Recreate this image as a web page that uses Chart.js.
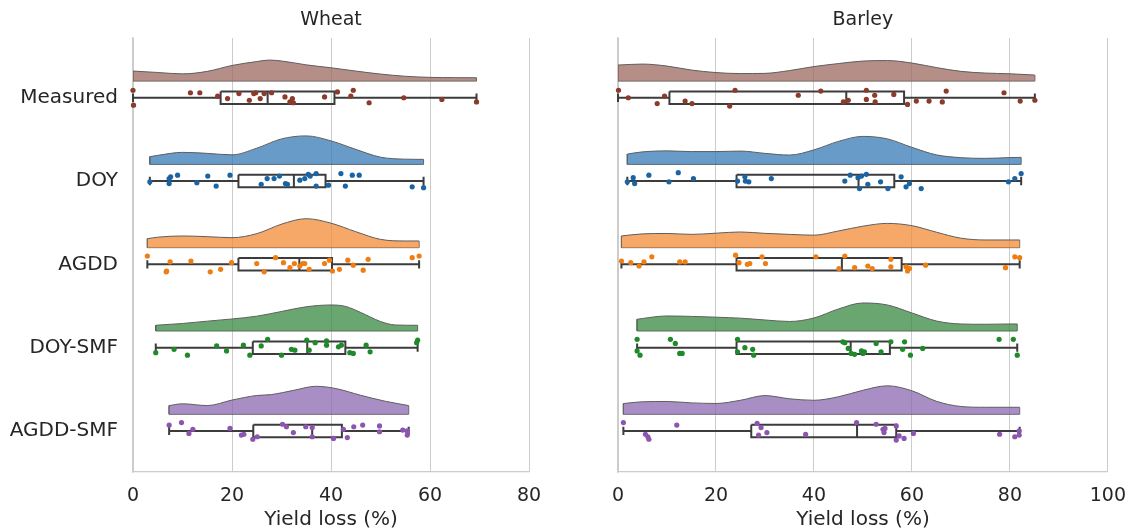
<!DOCTYPE html>
<html>
<head>
<meta charset="utf-8">
<title>Yield loss raincloud plots</title>
<script src="https://cdn.jsdelivr.net/npm/chart.js@4.4.0/dist/chart.umd.min.js"></script>
<style>
  html, body { margin: 0; padding: 0; background: #ffffff; }
  #wrap { position: relative; width: 1139px; height: 532px; overflow: hidden; }
  #wheatChart { position: absolute; left: 0; top: 0; }
  #barleyChart { position: absolute; left: 560px; top: 0; }
</style>
</head>
<body>
<div id="wrap">
  <canvas id="wheatChart" width="560" height="532"></canvas>
  <canvas id="barleyChart" width="579" height="532"></canvas>
</div>
<script>
// ---- categories and axis ticks ----
const categories = ['Measured', 'DOY', 'AGDD', 'DOY-SMF', 'AGDD-SMF'];
const wheatXTicks = [0, 20, 40, 60, 80];
const barleyXTicks = [0, 20, 40, 60, 80, 100];

// ---- Wheat: yield loss (%) per year, with vertical jitter (category units) ----
const wheatMeasured = [0, 0.1, 11.6, 13.5, 17.1, 19.1, 21.4, 23.5, 24.4, 24.8, 25.7, 26.5, 28.0, 30.7, 31.7, 32.2, 32.4, 38.7, 41.3, 44.0, 44.5, 47.7, 54.7, 62.4, 69.4];
const wheatMeasuredJitter = [-0.09, 0.09, -0.06, -0.06, -0.02, 0.01, -0.05, 0.03, -0.05, -0.06, 0.01, -0.05, -0.06, -0.01, 0.05, 0.01, 0.06, -0.01, -0.07, -0.02, -0.09, 0.06, 0, 0.02, 0.05];
const wheatDOY = [3.4, 7.3, 7.6, 7.3, 9.0, 12.9, 15.1, 16.8, 19.6, 25.9, 27.1, 28.5, 29.6, 30.8, 31.2, 33.7, 34.7, 35.4, 35.8, 37.0, 37.0, 39.5, 42.0, 42.9, 44.3, 45.7, 56.4, 58.7];
const wheatDOYJitter = [0.01, -0.03, -0.05, 0.03, -0.07, 0.02, -0.06, 0.06, -0.07, 0.04, -0.03, -0.03, -0.06, 0.03, 0.04, -0.01, -0.03, -0.08, -0.06, -0.09, 0.06, 0.05, -0.09, 0.06, -0.07, -0.07, 0.07, 0.08];
const wheatAGDD = [2.9, 6.8, 6.7, 7.5, 11.7, 15.6, 17.7, 19.9, 25.0, 26.5, 28.8, 30.4, 31.7, 32.6, 33.7, 34.3, 34.7, 35.6, 38.7, 39.7, 40.3, 41.7, 43.4, 44.5, 46.5, 47.5, 56.4, 57.8];
const wheatAGDDJitter = [-0.10, 0.08, 0.09, -0.03, -0.04, 0.09, 0.06, -0.02, -0.01, 0.09, -0.08, -0.02, 0.04, -0.01, 0.02, -0.01, -0.01, 0.06, -0.01, -0.05, 0.08, 0.06, -0.05, 0.01, 0.07, -0.06, -0.08, -0.10];
const wheatDOYSMF = [4.6, 8.3, 11.0, 16.9, 18.9, 22.3, 23.6, 25.9, 27.2, 30.0, 32.0, 32.7, 35.1, 35.6, 36.8, 39.1, 39.1, 41.5, 42.1, 43.8, 44.5, 47.1, 47.9, 57.3, 57.5];
const wheatDOYSMFJitter = [0.06, 0.02, 0.09, -0.02, 0.04, -0.03, 0.09, -0.02, -0.10, 0.09, 0.02, 0.03, -0.09, 0.03, -0.06, -0.08, -0.03, -0.01, -0.03, 0.06, 0.07, -0.03, 0.05, -0.06, -0.09];
const wheatAGDDSMF = [7.3, 9.8, 11.3, 12.1, 19.6, 21.9, 22.4, 24.2, 25.1, 30.2, 31.0, 32.4, 34.9, 36.2, 36.2, 40.5, 42.5, 43.3, 44.6, 46.4, 49.8, 49.8, 54.5, 55.4, 55.4];
const wheatAGDDSMFJitter = [-0.07, -0.10, 0.03, -0.02, -0.03, 0.05, 0.04, 0.10, 0.07, -0.08, -0.05, 0.02, -0.05, 0.07, -0.04, 0.09, -0.02, 0.08, -0.05, -0.07, -0.06, 0.01, -0.01, 0.05, 0];

// ---- Wheat box statistics ----
const wheatQ1 = [17.7, 21.3, 21.3, 24.2, 24.3];
const wheatMedian = [27.2, 32.5, 33.6, 35.2, 36.2];
const wheatQ3 = [40.7, 38.9, 40.2, 42.9, 42.2];
const wheatWhiskerLow = [0, 3.4, 2.9, 4.6, 7.3];
const wheatWhiskerHigh = [69.4, 58.7, 57.8, 57.5, 55.7];

// ---- Wheat kernel density estimates (x in %, density per %) ----
const wheatMeasuredKdeX = [0, 5, 10, 15, 20, 25, 27.5, 30, 35, 40, 45, 50, 55, 60, 65, 69.4];
const wheatMeasuredKde = [0.0100, 0.0086, 0.0072, 0.0097, 0.0156, 0.0195, 0.0210, 0.0201, 0.0162, 0.0133, 0.0100, 0.0070, 0.0048, 0.0037, 0.0034, 0.0033];
const wheatDOYKdeX = [3.4, 5, 10, 15, 20, 25, 30, 35, 40, 45, 50, 55, 58.7];
const wheatDOYKde = [0.0077, 0.0090, 0.0120, 0.0110, 0.0095, 0.0162, 0.0255, 0.0285, 0.0235, 0.0150, 0.0072, 0.0052, 0.0050];
const wheatAGDDKdeX = [2.9, 5, 10, 15, 20, 25, 30, 35, 40, 45, 50, 55, 57.8];
const wheatAGDDKde = [0.0090, 0.0105, 0.0117, 0.0110, 0.0100, 0.0140, 0.0235, 0.0290, 0.0245, 0.0160, 0.0083, 0.0067, 0.0067];
const wheatDOYSMFKdeX = [4.6, 10, 15, 20, 25, 30, 35, 40, 43, 46, 50, 53, 57.5];
const wheatDOYSMFKde = [0.0057, 0.0075, 0.0098, 0.0120, 0.0148, 0.0195, 0.0242, 0.0260, 0.0245, 0.0185, 0.0095, 0.0060, 0.0057];
const wheatAGDDSMFKdeX = [7.3, 10, 15, 20, 25, 28, 32.5, 37, 41, 46, 51, 55.7];
const wheatAGDDSMFKde = [0.0087, 0.0105, 0.0087, 0.0142, 0.0188, 0.0197, 0.0240, 0.0280, 0.0257, 0.0190, 0.0130, 0.0087];

// ---- Barley: yield loss (%) per year, with vertical jitter ----
const barleyMeasured = [0.1, 2.1, 8.0, 9.5, 13.7, 15.1, 22.8, 23.9, 36.8, 41.4, 46.0, 47.0, 50.7, 50.7, 52.4, 52.5, 56.3, 59.1, 60.9, 63.5, 66.2, 67.0, 78.8, 82.1, 85.1];
const barleyMeasuredJitter = [-0.09, 0, 0.07, -0.02, 0.04, 0.07, 0.10, -0.09, -0.03, -0.08, 0.05, 0.03, -0.09, 0.02, -0.03, 0.05, -0.04, 0.08, 0.04, 0.04, 0.05, -0.08, -0.06, 0.04, 0.03];
const barleyDOY = [1.9, 3.1, 3.4, 6.3, 10.4, 12.3, 15.4, 24.4, 25.9, 26.0, 26.7, 31.3, 46.3, 47.4, 49.0, 49.3, 49.7, 50.7, 51.0, 53.6, 55.1, 57.8, 58.8, 59.5, 61.9, 79.7, 81.0, 82.3];
const barleyDOYJitter = [0.01, -0.04, 0.03, -0.07, 0.01, -0.10, -0.03, 0, -0.05, 0, 0.01, -0.03, 0, -0.07, -0.04, 0.09, -0.06, -0.08, 0.04, 0.01, 0.09, -0.05, 0.07, 0.03, 0.09, 0.01, -0.03, -0.09];
const barleyAGDD = [0.7, 2.6, 4.3, 5.3, 6.9, 12.6, 13.7, 24.0, 24.7, 26.4, 26.9, 29.4, 30.1, 40.4, 45.1, 46.3, 48.3, 51.0, 51.9, 55.7, 55.7, 58.8, 59.1, 59.5, 62.8, 79.1, 81.0, 82.0];
const barleyAGDDJitter = [-0.04, -0.02, 0.02, -0.03, -0.09, -0.03, -0.03, -0.11, -0.02, 0, -0.01, -0.09, -0.01, -0.09, 0.05, -0.10, 0.04, 0.02, 0.05, -0.06, 0.03, 0.03, 0.08, 0.05, 0.01, 0.04, -0.09, -0.08];
const barleyDOYSMF = [3.9, 3.9, 4.5, 10.7, 11.7, 12.6, 13.1, 24.4, 24.4, 25.9, 27.5, 27.7, 45.9, 46.3, 47.0, 47.6, 48.3, 49.7, 50.0, 50.3, 52.7, 53.7, 55.7, 58.1, 58.5, 59.7, 62.2, 77.8, 80.7, 81.5];
const barleyDOYSMFJitter = [-0.10, 0.04, 0.09, -0.10, -0.05, 0.07, 0.07, -0.10, 0.05, 0, 0.02, 0.09, -0.07, -0.06, 0.01, 0.07, 0.08, 0.04, 0.07, 0.05, -0.05, 0.05, -0.07, 0.02, -0.07, 0.09, 0.01, -0.10, -0.10, 0.09];
const barleyAGDDSMF = [1.1, 5.6, 6.1, 6.3, 12.0, 28.4, 28.7, 29.2, 30.4, 38.3, 48.7, 52.7, 54.1, 54.3, 54.5, 56.8, 56.8, 57.4, 58.4, 60.3, 77.9, 81.0, 81.9, 81.9];
const barleyAGDDSMFJitter = [-0.10, 0.04, 0.07, 0.10, -0.07, -0.09, 0.05, -0.04, 0.02, 0.04, -0.10, -0.08, -0.02, 0.02, -0.03, -0.06, 0.11, 0.06, 0.09, 0.03, 0.04, 0.07, 0.05, 0];

// ---- Barley box statistics ----
const barleyQ1 = [10.5, 24.2, 24.2, 24.2, 27.2];
const barleyMedian = [46.6, 49.1, 45.7, 47.5, 48.8];
const barleyQ3 = [58.4, 56.4, 57.9, 55.5, 56.8];
const barleyWhiskerLow = [0, 1.9, 0.7, 3.9, 1.1];
const barleyWhiskerHigh = [85.1, 82.3, 82.0, 81.5, 82.0];

// ---- Barley kernel density estimates ----
const barleyMeasuredKdeX = [0, 5, 10, 15, 20, 25, 30, 35, 40, 45, 50, 55, 60, 65, 70, 75, 80, 85.1];
const barleyMeasuredKde = [0.0160, 0.0170, 0.0150, 0.0110, 0.0085, 0.0075, 0.0077, 0.0105, 0.0145, 0.0175, 0.0200, 0.0205, 0.0180, 0.0135, 0.0097, 0.0080, 0.0073, 0.0060];
const barleyDOYKdeX = [1.9, 5, 10, 15, 20, 25, 30, 35, 40, 45, 50, 55, 60, 65, 70, 75, 80, 82.3];
const barleyDOYKde = [0.0103, 0.0125, 0.0135, 0.0128, 0.0128, 0.0133, 0.0110, 0.0093, 0.0145, 0.0230, 0.0280, 0.0255, 0.0170, 0.0095, 0.0067, 0.0060, 0.0068, 0.0070];
const barleyAGDDKdeX = [0.7, 5, 10, 15, 20, 25, 30, 35, 40, 45, 50, 55, 60, 65, 70, 75, 80, 82];
const barleyAGDDKde = [0.0117, 0.0138, 0.0142, 0.0133, 0.0145, 0.0157, 0.0143, 0.0133, 0.0125, 0.0167, 0.0215, 0.0243, 0.0220, 0.0155, 0.0095, 0.0077, 0.0077, 0.0077];
const barleyDOYSMFKdeX = [3.9, 5, 10, 15, 20, 25, 30, 35, 40, 45, 50, 55, 60, 65, 70, 75, 80, 81.5];
const barleyDOYSMFKde = [0.0117, 0.0125, 0.0150, 0.0146, 0.0138, 0.0128, 0.0110, 0.0095, 0.0130, 0.0220, 0.0280, 0.0260, 0.0180, 0.0100, 0.0070, 0.0067, 0.0070, 0.0070];
const barleyAGDDSMFKdeX = [1.1, 5, 10, 15, 20, 25, 30, 35, 40, 45, 50, 55, 60, 65, 70, 75, 80, 82];
const barleyAGDDSMFKde = [0.0107, 0.0125, 0.0128, 0.0114, 0.0108, 0.0140, 0.0187, 0.0155, 0.0140, 0.0175, 0.0240, 0.0285, 0.0235, 0.0130, 0.0078, 0.0070, 0.0070, 0.0070];

// ---- styling ----
const cloudFill = ['rgba(156,106,95,0.75)', 'rgba(54,122,182,0.75)', 'rgba(242,139,54,0.75)', 'rgba(56,136,64,0.75)', 'rgba(139,104,176,0.75)'];
const dotColor = ['#8a3b2b', '#1a64a3', '#f07d12', '#1f8a2a', '#8c55b0'];
const TEXT = '#262626';
const GRID = '#cccccc';
const EDGE = '#5e5e5e';
const BOX_LINE = '#3c3c3c';

// geometry in category units
const Y_TOP = -0.717, Y_BOTTOM = 4.493;
const CLOUD_OFFSET = 0.2;      // cloud baseline sits above the box
const DENSITY_SCALE = 12.0;    // density -> category units
const BOX_HALF = 0.075;
const CAP_HALF = 0.05;

Chart.defaults.font.family = '"DejaVu Sans", sans-serif';
Chart.defaults.color = TEXT;

function buildDatasets(g) {
  const ds = [];
  categories.forEach((name, i) => {
    const base = i - CLOUD_OFFSET;
    const kx = g.kdeX[i], kd = g.kde[i];
    const n = kx.length - 1;
    // half-violin cloud
    ds.push({
      type: 'line', order: 3,
      data: kx.map((x, k) => ({ x, y: base - kd[k] * DENSITY_SCALE })),
      fill: { value: base },
      backgroundColor: cloudFill[i],
      borderColor: EDGE, borderWidth: 1,
      pointRadius: 0, cubicInterpolationMode: 'monotone'
    });
    // cloud ends and baseline outline
    ds.push({
      type: 'line', order: 3,
      data: [
        { x: kx[0], y: base - kd[0] * DENSITY_SCALE }, { x: kx[0], y: base },
        { x: kx[n], y: base }, { x: kx[n], y: base - kd[n] * DENSITY_SCALE }
      ],
      fill: false, borderColor: EDGE, borderWidth: 1, pointRadius: 0, tension: 0
    });
    // box, median, whiskers and caps
    const q1 = g.q1[i], q3 = g.q3[i], md = g.med[i], lo = g.lo[i], hi = g.hi[i];
    ds.push({
      type: 'line', order: 2,
      data: [
        { x: q1, y: i - BOX_HALF }, { x: q3, y: i - BOX_HALF }, { x: q3, y: i + BOX_HALF },
        { x: q1, y: i + BOX_HALF }, { x: q1, y: i - BOX_HALF }, { x: q1, y: null },
        { x: md, y: i - BOX_HALF }, { x: md, y: i + BOX_HALF }, { x: md, y: null },
        { x: lo, y: i }, { x: q1, y: i }, { x: q1, y: null },
        { x: q3, y: i }, { x: hi, y: i }, { x: hi, y: null },
        { x: lo, y: i - CAP_HALF }, { x: lo, y: i + CAP_HALF }, { x: lo, y: null },
        { x: hi, y: i - CAP_HALF }, { x: hi, y: i + CAP_HALF }
      ],
      fill: false, spanGaps: false, borderColor: BOX_LINE, borderWidth: 2,
      pointRadius: 0, tension: 0, borderJoinStyle: 'miter', clip: false
    });
    // jittered observations
    ds.push({
      type: 'scatter', order: 1, clip: false,
      data: g.values[i].map((v, k) => ({ x: v, y: i + g.jitter[i][k] })),
      backgroundColor: dotColor[i], borderWidth: 0, pointRadius: 2.6, pointHoverRadius: 2.6
    });
  });
  return ds;
}

function makeChart(canvasId, g, opts) {
  return new Chart(document.getElementById(canvasId), {
    type: 'scatter',
    data: { datasets: buildDatasets(g) },
    options: {
      responsive: false, devicePixelRatio: 1, animation: false,
      layout: { padding: { left: 0, right: opts.rightPad, top: 0, bottom: 0 } },
      plugins: { legend: { display: false }, tooltip: { enabled: false }, title: { display: false } },
      scales: {
        x: {
          type: 'linear', position: 'bottom', min: 0, max: opts.xMax,
          afterBuildTicks: s => { s.ticks = opts.xTicks.map(v => ({ value: v })); },
          afterFit: s => { s.height = 60; },
          grid: { color: GRID, lineWidth: 1, drawTicks: false },
          border: { display: true, color: GRID, width: 1.25 },
          ticks: { padding: 13, color: TEXT, font: { size: 19 } },
          title: { display: true, text: 'Yield loss (%)', color: TEXT, font: { size: 20 }, padding: { top: 0, bottom: 0 } }
        },
        xTop: {
          type: 'linear', position: 'top', min: 0, max: opts.xMax,
          afterFit: s => { s.height = 38; },
          grid: { display: false, drawTicks: false },
          border: { display: false },
          ticks: { display: false },
          title: { display: true, text: opts.title, color: TEXT, font: { size: 19 }, padding: { top: 9, bottom: 0 } }
        },
        y: {
          type: 'linear', position: 'left', reverse: true, min: Y_TOP, max: Y_BOTTOM,
          afterBuildTicks: s => { s.ticks = categories.map((c, i) => ({ value: i })); },
          afterFit: s => { s.width = opts.yWidth; },
          grid: { display: false, drawTicks: false },
          border: { display: true, color: GRID, width: 1.25 },
          ticks: {
            display: opts.showLabels, padding: 15, color: TEXT, font: { size: 20 },
            callback: v => categories[Math.round(v)] ?? ''
          }
        }
      }
    }
  });
}

makeChart('wheatChart', {
  values: [wheatMeasured, wheatDOY, wheatAGDD, wheatDOYSMF, wheatAGDDSMF],
  jitter: [wheatMeasuredJitter, wheatDOYJitter, wheatAGDDJitter, wheatDOYSMFJitter, wheatAGDDSMFJitter],
  q1: wheatQ1, med: wheatMedian, q3: wheatQ3, lo: wheatWhiskerLow, hi: wheatWhiskerHigh,
  kdeX: [wheatMeasuredKdeX, wheatDOYKdeX, wheatAGDDKdeX, wheatDOYSMFKdeX, wheatAGDDSMFKdeX],
  kde: [wheatMeasuredKde, wheatDOYKde, wheatAGDDKde, wheatDOYSMFKde, wheatAGDDSMFKde]
}, { xMax: 80, xTicks: wheatXTicks, title: 'Wheat', yWidth: 133, rightPad: 31, showLabels: true });

makeChart('barleyChart', {
  values: [barleyMeasured, barleyDOY, barleyAGDD, barleyDOYSMF, barleyAGDDSMF],
  jitter: [barleyMeasuredJitter, barleyDOYJitter, barleyAGDDJitter, barleyDOYSMFJitter, barleyAGDDSMFJitter],
  q1: barleyQ1, med: barleyMedian, q3: barleyQ3, lo: barleyWhiskerLow, hi: barleyWhiskerHigh,
  kdeX: [barleyMeasuredKdeX, barleyDOYKdeX, barleyAGDDKdeX, barleyDOYSMFKdeX, barleyAGDDSMFKdeX],
  kde: [barleyMeasuredKde, barleyDOYKde, barleyAGDDKde, barleyDOYSMFKde, barleyAGDDSMFKde]
}, { xMax: 100, xTicks: barleyXTicks, title: 'Barley', yWidth: 58, rightPad: 27, showLabels: false });
</script>
</body>
</html>
